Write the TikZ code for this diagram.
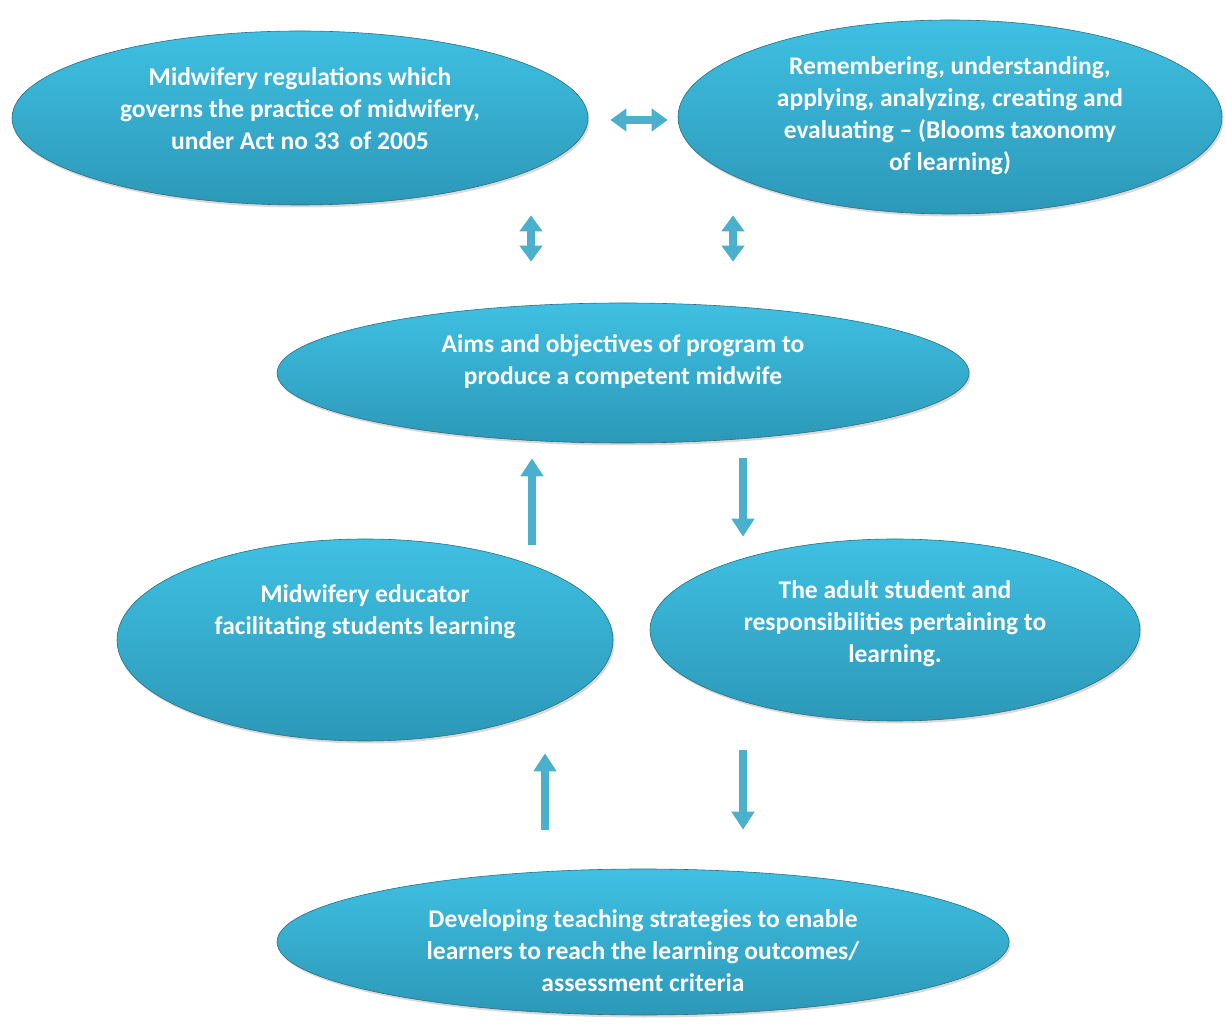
\documentclass[tikz,border=0pt]{standalone}
\usepackage{fontspec}
\setmainfont{Carlito}
\usetikzlibrary{shapes.geometric,arrows.meta,shadows}

\definecolor{bubbletop}{HTML}{3FC0E2}
\definecolor{bubblebot}{HTML}{2C98B8}
\definecolor{bubbleedge}{HTML}{2A6F80}
\definecolor{arrowblue}{HTML}{4BB0CC}

\begin{document}
\begin{tikzpicture}[x=1pt, y=1pt,
  bubble/.style={ellipse, inner sep=0pt, align=center, text=white,
    font=\bfseries\fontsize{25.5}{32}\selectfont,
    top color=bubbletop, bottom color=bubblebot, draw=bubbleedge, line width=0.6pt,
    drop shadow={opacity=0.3, shadow xshift=1.5pt, shadow yshift=-2.5pt}},
  flow/.style={draw=arrowblue, line width=8pt, -{Triangle[width=22pt,length=18pt]}},
  twoway/.style={draw=arrowblue, line width=8pt, {Triangle[width=22pt,length=16pt]}-{Triangle[width=22pt,length=16pt]}}]
  \useasboundingbox (0,0) rectangle (1226,1023);

  % obere Reihe
  \node[bubble, minimum width=576pt, minimum height=174pt] (regs) at (300,905)
    {Midwifery regulations which\\governs the practice of midwifery,\\under Act no 33\, of 2005\\[-14pt]};
  \node[bubble, minimum width=544pt, minimum height=194pt] (bloom) at (950,906)
    {Remembering, understanding,\\applying, analyzing, creating and\\evaluating -- (Blooms taxonomy\\of learning)\\[-26pt]};

  % Mitte
  \node[bubble, minimum width=692pt, minimum height=140pt] (aims) at (623,650)
    {Aims and objectives of program to\\produce a competent midwife\\[-6pt]};

  % zweite Reihe
  \node[bubble, minimum width=496pt, minimum height=202pt] (educ) at (365,383)
    {Midwifery educator\\facilitating students learning\\[28pt]};
  \node[bubble, minimum width=490pt, minimum height=182pt] (adult) at (895,393)
    {The adult student and\\responsibilities pertaining to\\learning.\\[-16pt]};

  % unten
  \node[bubble, minimum width=732pt, minimum height=146pt] (strat) at (643,81)
    {\rule{0pt}{36pt}Developing teaching strategies to enable\\learners to reach the learning outcomes/\\assessment criteria};

  % Pfeile oben
  \draw[twoway] ([xshift=22pt,yshift=-2pt]regs.east) -- ([xshift=-10pt,yshift=-3pt]bloom.west);
  \draw[twoway] ([xshift=231pt,yshift=-10pt]regs.south) -- ([xshift=-92pt,yshift=41pt]aims.north);
  \draw[twoway] ([xshift=-217pt,yshift=-1pt]bloom.south) -- ([xshift=110pt,yshift=41pt]aims.north);

  % Pfeile Mitte
  \draw[flow] ([xshift=167pt,yshift=-6pt]educ.north) -- ([xshift=-91pt,yshift=-15pt]aims.south);
  \draw[flow] ([xshift=120pt,yshift=-15pt]aims.south) -- ([xshift=-152pt,yshift=2pt]adult.north);

  % Pfeile unten
  \draw[flow] ([xshift=-98pt,yshift=39pt]strat.north) -- ([xshift=180pt,yshift=-12pt]educ.south);
  \draw[flow] ([xshift=-152pt,yshift=-29pt]adult.south) -- ([xshift=100pt,yshift=39pt]strat.north);

\end{tikzpicture}
\end{document}
